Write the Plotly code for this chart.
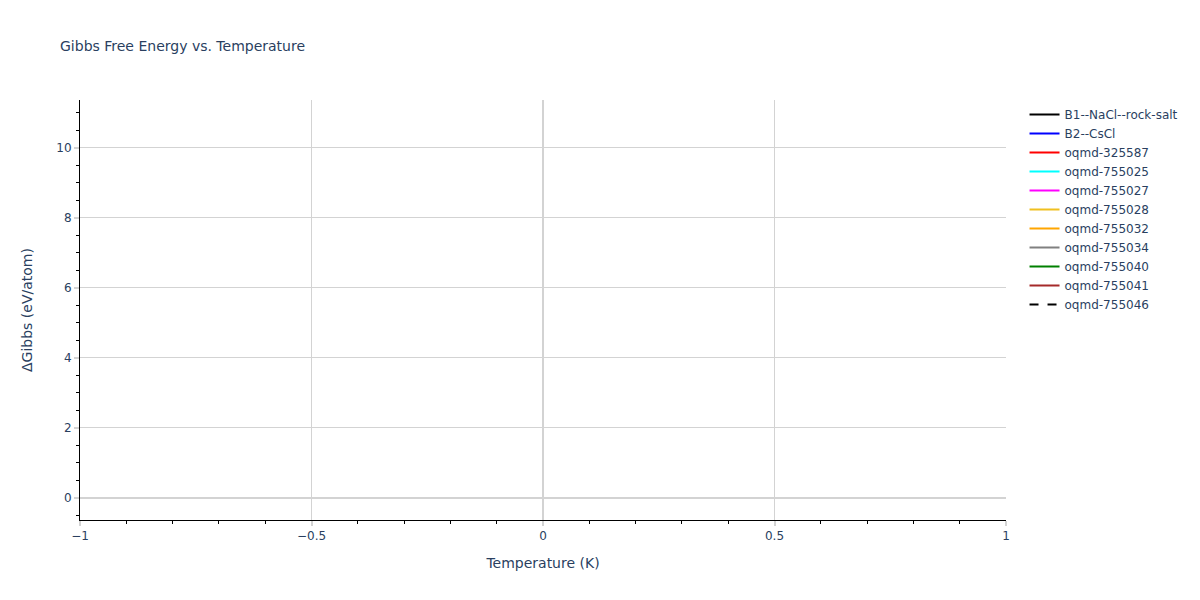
import plotly.graph_objects as go

names = ["B1--NaCl--rock-salt", "B2--CsCl", "oqmd-325587", "oqmd-755025", "oqmd-755027",
         "oqmd-755028", "oqmd-755032", "oqmd-755034", "oqmd-755040", "oqmd-755041", "oqmd-755046"]
colors = ["black", "blue", "red", "cyan", "magenta", "#f0c020", "orange", "gray", "green", "brown", "black"]
dashes = ["solid"] * 10 + ["dash"]
temperature = [[0]] * 11
dgibbs = [[0.0], [10.76], [0.0], [0.0], [0.0], [0.0], [0.0], [0.0], [0.0], [0.0], [0.0]]

fig = go.Figure()
for n, c, d, t, g in zip(names, colors, dashes, temperature, dgibbs):
    fig.add_trace(go.Scatter(x=t, y=g, mode="lines", name=n, line=dict(color=c, dash=d)))

axis_common = dict(showline=True, linecolor="black", automargin=False,
                   ticks="outside", tickcolor="lightgrey", tickwidth=2,
                   gridcolor="lightgrey", zerolinecolor="lightgrey", zerolinewidth=2)

fig.update_layout(
    template="plotly_white",
    font=dict(family="Verdana, DejaVu Sans", size=12, color="#2a3f5f"),
    title=dict(text="Gibbs Free Energy vs. Temperature", font=dict(size=14), x=52 / 1200, y=0.945),
    width=1200, height=600,
    margin=dict(l=72, r=202, t=92, b=88),
    legend=dict(x=1.02, y=1, font=dict(size=12)),
    xaxis=dict(title=dict(text="Temperature (K)", font=dict(size=14)), range=[-1, 1], dtick=0.5,
               minor=dict(ticks="outside", dtick=0.1, showgrid=False, tickcolor="black", tickwidth=1),
               **axis_common),
    yaxis=dict(title=dict(text="ΔGibbs (eV/atom)", font=dict(size=14), standoff=20), range=[-0.63, 11.36],
               dtick=2,
               minor=dict(ticks="outside", dtick=0.5, showgrid=False, tickcolor="black", tickwidth=1),
               **axis_common),
)
fig.write_html("out.html")
